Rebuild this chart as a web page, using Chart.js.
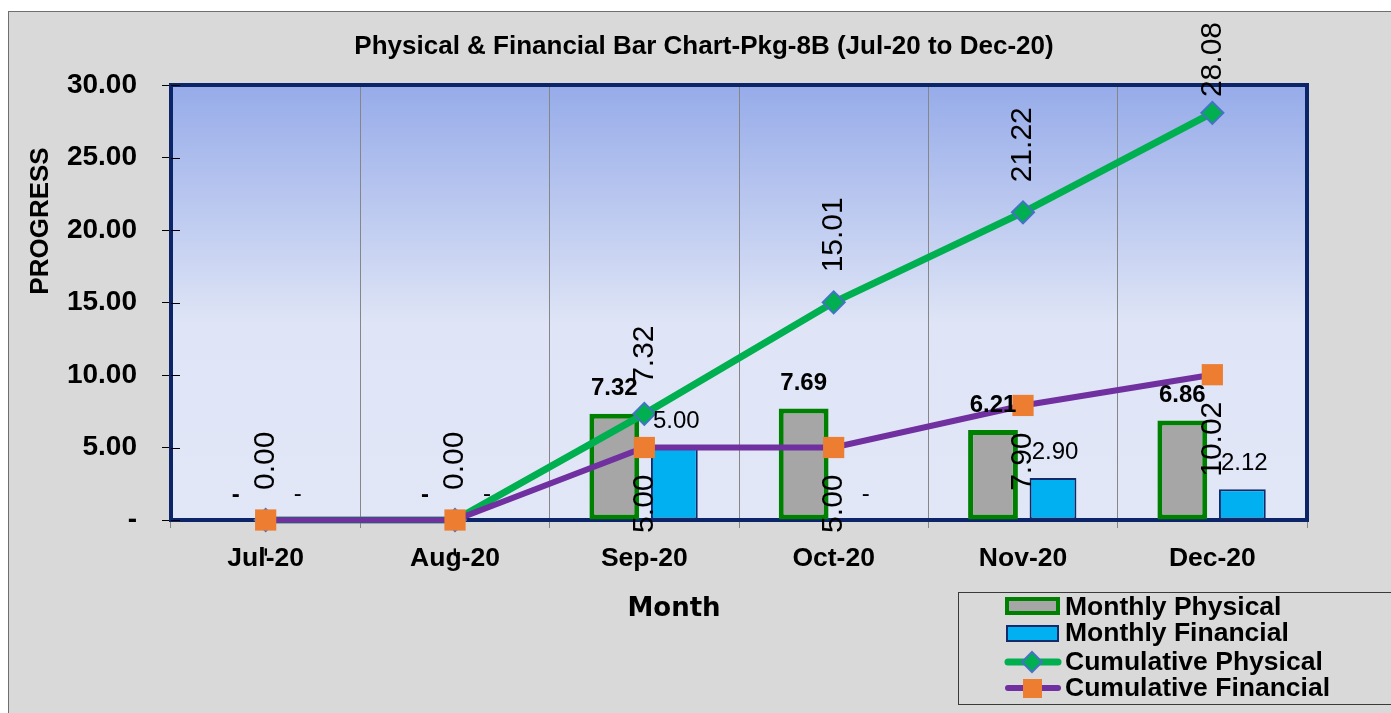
<!DOCTYPE html>
<html>
<head>
<meta charset="utf-8">
<script src="https://cdn.jsdelivr.net/npm/chart.js@4.4.0/dist/chart.umd.min.js"></script>
<style>
  html, body { margin: 0; padding: 0; background: #fff; }
  #wrap { width: 1391px; height: 713px; }
</style>
</head>
<body>
<div id="wrap"><canvas id="myChart"></canvas></div>
<script>
var months = ['Jul-20', 'Aug-20', 'Sep-20', 'Oct-20', 'Nov-20', 'Dec-20'];
var monthlyPhysical = [0, 0, 7.32, 7.69, 6.21, 6.86];
var monthlyFinancial = [0, 0, 5.00, 0, 2.90, 2.12];
var cumulativePhysical = [0, 0, 7.32, 15.01, 21.22, 28.08];
var cumulativeFinancial = [0, 0, 5.00, 5.00, 7.90, 10.02];
var yTicks = [0, 5, 10, 15, 20, 25, 30];

var ARIAL = "'Liberation Sans', Arial, sans-serif";

function dash(v) { return v === 0 ? '-' : v.toFixed(2); }

// background, plot gradient and navy frame
var framePlugin = {
  id: 'frame',
  beforeDraw: function(chart) {
    var ctx = chart.ctx, ca = chart.chartArea;
    ctx.save();
    ctx.fillStyle = '#fff';
    ctx.fillRect(0, 0, chart.width, chart.height);
    ctx.fillStyle = '#d9d9d9';
    ctx.fillRect(8, 11, chart.width - 8, chart.height - 11);
    ctx.strokeStyle = '#6f6f6f';
    ctx.lineWidth = 1;
    ctx.strokeRect(8.5, 11.5, chart.width, chart.height);
    var g = ctx.createLinearGradient(0, ca.top, 0, ca.bottom);
    g.addColorStop(0, '#96abe9');
    g.addColorStop(0.55, '#dfe5f6');
    g.addColorStop(1, '#e1e7f7');
    ctx.fillStyle = g;
    ctx.fillRect(ca.left, ca.top, ca.width, ca.height);
    ctx.restore();
  },
  beforeDatasetsDraw: function(chart) {
    var ctx = chart.ctx, ca = chart.chartArea;
    ctx.save();
    ctx.strokeStyle = '#0c2468';
    ctx.lineWidth = 4;
    ctx.strokeRect(ca.left, ca.top, ca.width, ca.height);
    // inner half of the y tick marks
    var ys = chart.scales.y;
    ctx.strokeStyle = '#000';
    ctx.lineWidth = 1;
    yTicks.forEach(function(v) {
      var py = Math.round(ys.getPixelForValue(v)) + 0.5;
      ctx.beginPath();
      ctx.moveTo(ca.left, py);
      ctx.lineTo(ca.left + 9, py);
      ctx.stroke();
    });
    ctx.restore();
  }
};

// value labels, titles and legend
var labelPlugin = {
  id: 'valueLabels',
  afterDatasetsDraw: function(chart) {
    var ctx = chart.ctx;
    ctx.save();
    ctx.fillStyle = '#000';
    ctx.textAlign = 'center';
    ctx.textBaseline = 'middle';

    ctx.font = 'bold 24px ' + ARIAL;
    chart.getDatasetMeta(0).data.forEach(function(el, i) {
      ctx.fillText(dash(monthlyPhysical[i]), el.x, el.y - 25);
    });
    ctx.font = '24px ' + ARIAL;
    chart.getDatasetMeta(1).data.forEach(function(el, i) {
      ctx.fillText(dash(monthlyFinancial[i]), el.x + 2, el.y - 26);
    });

    ctx.font = '30px ' + ARIAL;
    chart.getDatasetMeta(2).data.forEach(function(el, i) {
      var t = cumulativePhysical[i].toFixed(2);
      var w = ctx.measureText(t).width;
      var cy = Math.max(el.y - 30 - w / 2, 22 + w / 2);
      ctx.save();
      ctx.translate(el.x, cy);
      ctx.rotate(-Math.PI / 2);
      ctx.fillText(t, 0, 0);
      ctx.restore();
    });
    chart.getDatasetMeta(3).data.forEach(function(el, i) {
      var t = dash(cumulativeFinancial[i]);
      var w = ctx.measureText(t).width;
      var cy = el.y + 27 + w / 2;
      ctx.save();
      ctx.translate(el.x, cy);
      ctx.rotate(-Math.PI / 2);
      ctx.fillText(t, 0, 0);
      ctx.restore();
    });
    ctx.restore();
  },
  afterDraw: function(chart) {
    var ctx = chart.ctx;
    ctx.save();
    ctx.fillStyle = '#000';
    ctx.textAlign = 'center';
    ctx.textBaseline = 'middle';

    ctx.font = 'bold 26px ' + ARIAL;
    ctx.fillText('Physical & Financial Bar Chart-Pkg-8B (Jul-20 to Dec-20)', 704, 47);

    ctx.save();
    ctx.translate(41, 221);
    ctx.rotate(-Math.PI / 2);
    ctx.font = 'bold 26px ' + ARIAL;
    ctx.fillText('PROGRESS', 0, 0);
    ctx.restore();

    ctx.font = "bold 26px 'DejaVu Sans', Verdana, sans-serif";
    ctx.fillText('Month', 674, 609);

    // legend
    ctx.strokeStyle = '#3a3a3a';
    ctx.lineWidth = 1;
    ctx.strokeRect(958.5, 592.5, 440, 112);
    var rows = [607, 633, 662, 688];
    ctx.textAlign = 'left';
    ctx.font = 'bold 26.5px ' + ARIAL;
    var names = chart.data.datasets.map(function(d) { return d.label; });
    names.forEach(function(n, i) { ctx.fillText(n, 1065, rows[i] + 1); });

    ctx.fillStyle = '#a6a6a6';
    ctx.fillRect(1007, 599, 51, 14);
    ctx.strokeStyle = '#008000';
    ctx.lineWidth = 4;
    ctx.strokeRect(1007, 599, 51, 14);

    ctx.fillStyle = '#00b0f0';
    ctx.fillRect(1007, 626, 51, 15);
    ctx.strokeStyle = '#102a6b';
    ctx.lineWidth = 2;
    ctx.strokeRect(1007, 626, 51, 15);

    ctx.lineCap = 'round';
    ctx.strokeStyle = '#00b050';
    ctx.lineWidth = 7;
    ctx.beginPath(); ctx.moveTo(1008, 662); ctx.lineTo(1058, 662); ctx.stroke();
    ctx.fillStyle = '#00b050';
    ctx.strokeStyle = '#4472c4';
    ctx.lineWidth = 2;
    ctx.beginPath();
    ctx.moveTo(1032, 652); ctx.lineTo(1042, 662); ctx.lineTo(1032, 672); ctx.lineTo(1022, 662); ctx.closePath();
    ctx.fill(); ctx.stroke();

    ctx.strokeStyle = '#7030a0';
    ctx.lineWidth = 6;
    ctx.beginPath(); ctx.moveTo(1008, 688); ctx.lineTo(1058, 688); ctx.stroke();
    ctx.fillStyle = '#ed7d31';
    ctx.fillRect(1023, 679, 19, 19);
    ctx.restore();
  }
};

var ctx = document.getElementById('myChart').getContext('2d');
var chart = new Chart(ctx, {
  type: 'bar',
  data: {
    labels: months,
    datasets: [
      {
        type: 'bar',
        label: 'Monthly Physical',
        data: monthlyPhysical,
        backgroundColor: '#a6a6a6',
        borderColor: '#008000',
        borderWidth: 5,
        borderSkipped: false,
        categoryPercentage: 0.634,
        barPercentage: 0.83,
        order: 3
      },
      {
        type: 'bar',
        label: 'Monthly Financial',
        data: monthlyFinancial,
        backgroundColor: '#00b0f0',
        borderColor: '#102a6b',
        borderWidth: 2,
        borderSkipped: false,
        categoryPercentage: 0.634,
        barPercentage: 0.78,
        order: 3
      },
      {
        type: 'line',
        label: 'Cumulative Physical',
        data: cumulativePhysical,
        borderColor: '#00b050',
        borderWidth: 7,
        pointStyle: 'rectRot',
        pointRadius: 11,
        pointBackgroundColor: '#00b050',
        pointBorderColor: '#4472c4',
        pointBorderWidth: 2,
        clip: false,
        order: 2
      },
      {
        type: 'line',
        label: 'Cumulative Financial',
        data: cumulativeFinancial,
        borderColor: '#7030a0',
        borderWidth: 6,
        pointStyle: 'rect',
        pointRadius: 15,
        pointBackgroundColor: '#ed7d31',
        pointBorderColor: '#ed7d31',
        pointBorderWidth: 0,
        clip: false,
        order: 1
      }
    ]
  },
  options: {
    responsive: true,
    maintainAspectRatio: false,
    animation: false,
    devicePixelRatio: 1,
    layout: { padding: { top: 85, right: 84, left: 0, bottom: 0 } },
    plugins: {
      legend: { display: false },
      title: { display: false },
      tooltip: { enabled: false }
    },
    scales: {
      x: {
        offset: true,
        grid: { offset: true, color: '#868686', lineWidth: 1, tickLength: 8 },
        border: { display: false },
        ticks: {
          color: '#000',
          font: { family: ARIAL, size: 26.5, weight: 'bold' },
          padding: 15,
          maxRotation: 0,
          autoSkip: false
        },
        afterFit: function(s) { s.height = 193; }
      },
      y: {
        min: 0,
        max: 30,
        grid: { drawOnChartArea: false, color: '#000', tickLength: 9 },
        border: { display: false },
        afterBuildTicks: function(s) { s.ticks = yTicks.map(function(v) { return { value: v }; }); },
        ticks: {
          color: '#000',
          font: { family: ARIAL, size: 28, weight: 'bold' },
          padding: 25,
          callback: function(v) { return dash(v); }
        },
        afterFit: function(s) { s.width = 171; }
      }
    }
  },
  plugins: [framePlugin, labelPlugin]
});
</script>
</body>
</html>
